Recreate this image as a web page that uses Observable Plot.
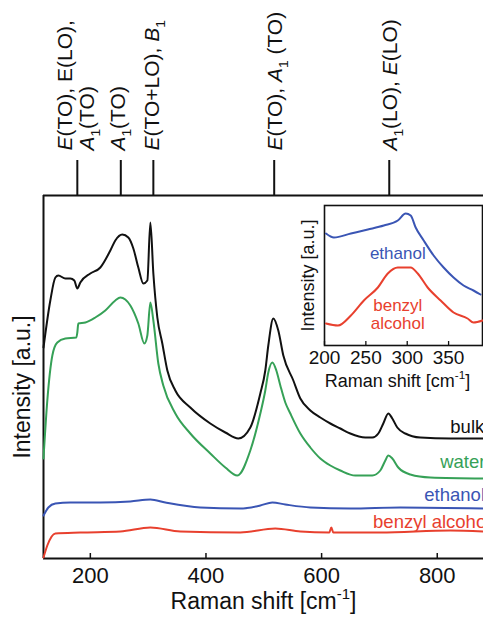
<!DOCTYPE html>
<html><head><meta charset="utf-8">
<script src="https://cdn.jsdelivr.net/npm/d3@7"></script>
<script src="https://cdn.jsdelivr.net/npm/@observablehq/plot@0.6"></script>
<style>
body{margin:0;background:#fff;font-family:"Liberation Sans",Arial,sans-serif;}
#wrap{position:relative;width:483px;height:624px;overflow:hidden;background:#fff;}
#inset{position:absolute;left:300px;top:195px;}
#inset svg{background:transparent !important;}
</style></head><body><div id="wrap"><div id="main"></div><div id="inset"></div></div>
<script>
// ---- main spectra (Raman shift cm^-1, intensity a.u.) ----
const bulkShift = [119,130.8,139.5,144.7,156.8,165.4,172.3,177.5,182.7,200,217.3,234.6,243.2,255.3,265.7,274.4,283,291.7,298.6,303.8,309,315.9,324.5,333.2,347,372.9,407.5,433.5,456,476.7,494,502.6,507.8,516.5,525.1,533.8,551.1,563.2,580.5,597.8,615.1,632.4,649.6,675.6,687.7,698.1,706.7,715.4,722.3,730.9,744.8,770.7,822.6,879.7];
const bulkInt   = [211,258,281,283,280,280,278,270,276,285,291,308,318,324,321,310,291,275,278,336,285,241,215,188,168,151,135,126,120,131,165,188,213,240,228,203,178,160,148,141,135,130,125,121,121,125,135,145,140,131,125,121,120,120];

const waterShift = [119,125.6,134.3,142.9,156.8,175.8,177.5,179.2,191.4,208.6,225.9,243.2,251.9,260.5,269.2,283,293.4,298.6,303.8,309,317.6,326.2,347,372.9,407.5,433.5,454.2,476.7,494,502.6,507.8,514.8,521.7,528.6,537.2,545.9,563.2,580.5,597.8,615.1,632.4,658.3,687.7,701.5,710.2,715.4,722.3,732.6,753.4,788,879.7];
const waterInt   = [100,158,203,216,220,221,226,235,236,241,248,258,261,259,253,235,215,223,256,238,195,173,145,125,105,91,83,108,145,168,186,196,188,173,156,145,125,111,100,93,88,83,83,88,98,103,100,91,84,81,80];

const ethanolShift = [119,127.4,139.5,165.4,217.3,269.2,303.8,329.7,390.2,459.4,494,514.8,537.2,580.5,649.6,736.1,879.7];
const ethanolInt   = [43,51,55,56,56,57,59,56,51,50,53,56,54,51,50,51,50];

const benzylShift = [119,125.6,139.5,182.7,251.9,303.8,355.6,459.4,519.9,563.2,613.3,616.8,620.2,701.5,822.6,879.7];
const benzylInt   = [1,13,25,26,27,31,27,26,30,27,26,31,26,26,28,27];

const seriesNames  = ["bulk","water","ethanol","benzyl alcohol"];
const seriesColors = ["#111111","#36a157","#3a55b4","#e8402e"];
const seriesLabelX = [822.6, 805, 777.6, 689];
const seriesLabelY = [131, 96, 63, 36];
const seriesLabelText = ["bulk","water","ethanol","benzyl alcohol"];

// ---- phonon mode assignments ----
const modeShifts = [177.5, 252.7, 309, 518, 717];
const modeLabelX = [157, 195, 248, 307, 520, 719];
const modeLabelText = ["*E*(TO), E(LO),", "*A*_{1}(TO)", "*A*_{1}(TO)", "*E*(TO+LO), *B*_{1}", "*E*(TO), *A*_{1} (TO)", "*A*_{1}(LO), *E*(LO)"];

const xTicks = [200, 400, 600, 800];
const xLabel = "Raman shift [cm^{-1}]";
const yLabel = "Intensity [a.u.]";

// ---- inset ----
const insetEthShift = [201.8,211.4,231.9,252.4,271.7,288.6,298.2,304.2,310.2,319.9,331.9,344,356,368.1,380.1,388.6];
const insetEthInt   = [112,108,112,116,120,125,132,130,118,105,90,78,68,60,55,51];
const insetBenShift = [201.8,216.3,231.9,247.6,264.5,276.5,288.6,304.2,312.7,324.7,340.4,356,372.9,380.1,391];
const insetBenInt   = [22,20,30,45,58,72,78,78,72,58,45,33,27,23,25];
const insetTicks = [200, 250, 300, 350];
const insetLabelX = [288.6, 288.6, 288.6];
const insetLabelY = [92, 40, 22];
const insetLabelText = ["ethanol", "benzyl", "alcohol"];
const insetLabelColor = ["#3a55b4", "#e8402e", "#e8402e"];

function rows(xs, ys, name){ return xs.map((x,i)=>({x, y: ys[i], name})); }
const spectra = [
  ...rows(bulkShift, bulkInt, "bulk"),
  ...rows(waterShift, waterInt, "water"),
  ...rows(ethanolShift, ethanolInt, "ethanol"),
  ...rows(benzylShift, benzylInt, "benzyl alcohol")
];
const labels = seriesLabelText.map((t,i)=>({x: seriesLabelX[i], y: seriesLabelY[i], t, c: seriesColors[i]}));
const modeLabels = modeLabelText.map((t,i)=>({x: modeLabelX[i], t}));

const FONT = "Liberation Sans, Arial, sans-serif";

const main = Plot.plot({
  width: 483, height: 624,
  marginLeft: 43, marginRight: 0, marginTop: 195, marginBottom: 66,
  style: {fontFamily: FONT, background: "#fff", color: "#111"},
  x: {domain: [119, 880]},
  y: {domain: [0, 363]},
  color: {domain: seriesNames, range: seriesColors},
  marks: [
    Plot.ruleY([0, 363], {stroke: "#111", strokeWidth: 2}),
    Plot.ruleX([119], {y1: 0, y2: 363, stroke: "#111", strokeWidth: 2}),
    Plot.ruleX(xTicks, {y1: 0, y2: 5, stroke: "#111", strokeWidth: 1.5}),
    Plot.axisX({ticks: xTicks, tickSize: 0, tickPadding: 9, fontSize: 22, label: null, fill: "#111"}),
    Plot.axisY({ticks: [], label: null, tickSize: 0}),
    Plot.line(spectra, {x: "x", y: "y", z: "name", stroke: "name", strokeWidth: 2, curve: "monotone-x"}),
    Plot.text(labels, {x: "x", y: "y", text: "t", fill: "c", textAnchor: "start", fontSize: 18.5}),
    Plot.ruleX(modeShifts, {y1: 363, y2: 398, stroke: "#111", strokeWidth: 2}),
    Plot.text(modeLabels, {x: "x", y: 408, text: "t", rotate: -90, textAnchor: "start", fontSize: 21, fill: "#111"}),
    Plot.text([xLabel], {frameAnchor: "bottom", dy: 50, text: d => d, fontSize: 23, fill: "#111"}),
    Plot.text([yLabel], {frameAnchor: "left", textAnchor: "middle", dx: -21, dy: 10, rotate: -90, text: d => d, fontSize: 23, fill: "#111"})
  ]
});
document.getElementById("main").appendChild(main);

const insetData = [...rows(insetEthShift, insetEthInt, "ethanol"), ...rows(insetBenShift, insetBenInt, "benzyl alcohol")];
const insetLabels = insetLabelText.map((t,i)=>({x: insetLabelX[i], y: insetLabelY[i], t, c: insetLabelColor[i]}));
const inset = Plot.plot({
  width: 183, height: 205,
  marginLeft: 24, marginRight: 1, marginTop: 10, marginBottom: 55,
  style: {fontFamily: FONT, background: "transparent", color: "#111"},
  x: {domain: [200, 391]},
  y: {domain: [0, 140]},
  color: {domain: seriesNames, range: seriesColors},
  marks: [
    Plot.frame({stroke: "#111", strokeWidth: 1.6}),
    Plot.ruleX(insetTicks, {y1: 0, y2: 4, stroke: "#111", strokeWidth: 1.3}),
    Plot.axisX({ticks: insetTicks, tickSize: 0, tickPadding: 5, fontSize: 19, label: null, fill: "#111"}),
    Plot.axisY({ticks: [], label: null, tickSize: 0}),
    Plot.line(insetData, {x: "x", y: "y", z: "name", stroke: "name", strokeWidth: 2, curve: "monotone-x"}),
    Plot.text(insetLabels, {x: "x", y: "y", text: "t", fill: "c", fontSize: 17}),
    Plot.text([xLabel], {frameAnchor: "bottom", dx: -6, dy: 41, text: d => d, fontSize: 18, fill: "#111"}),
    Plot.text([yLabel], {frameAnchor: "left", textAnchor: "middle", dx: -16, rotate: -90, text: d => d, fontSize: 18, fill: "#111"})
  ]
});
document.getElementById("inset").appendChild(inset);

// rich text: *italic*, _{sub}, ^{sup}
function richify(root){
  root.querySelectorAll("text").forEach(el => {
    const s = el.textContent;
    if (!/[*_^]/.test(s)) return;
    const fs = parseFloat(getComputedStyle(el).fontSize) || 16;
    const parts = s.split(/(\*[^*]+\*|_\{[^}]+\}|\^\{[^}]+\})/).filter(p => p !== "");
    el.textContent = "";
    const NS = "http://www.w3.org/2000/svg";
    let shift = 0;
    parts.forEach(p => {
      const t = document.createElementNS(NS, "tspan");
      let want = 0;
      if (p.startsWith("*")) { t.textContent = p.slice(1, -1); t.setAttribute("font-style", "italic"); }
      else if (p.startsWith("_{")) { t.textContent = p.slice(2, -1); t.setAttribute("font-size", (fs*0.65)+"px"); want = fs*0.28; }
      else if (p.startsWith("^{")) { t.textContent = p.slice(2, -1); t.setAttribute("font-size", (fs*0.65)+"px"); want = -fs*0.42; }
      else { t.textContent = p; }
      if (want !== shift) { t.setAttribute("dy", (want - shift)); shift = want; }
      el.appendChild(t);
    });
  });
}
richify(main); richify(inset);
</script></body></html>
